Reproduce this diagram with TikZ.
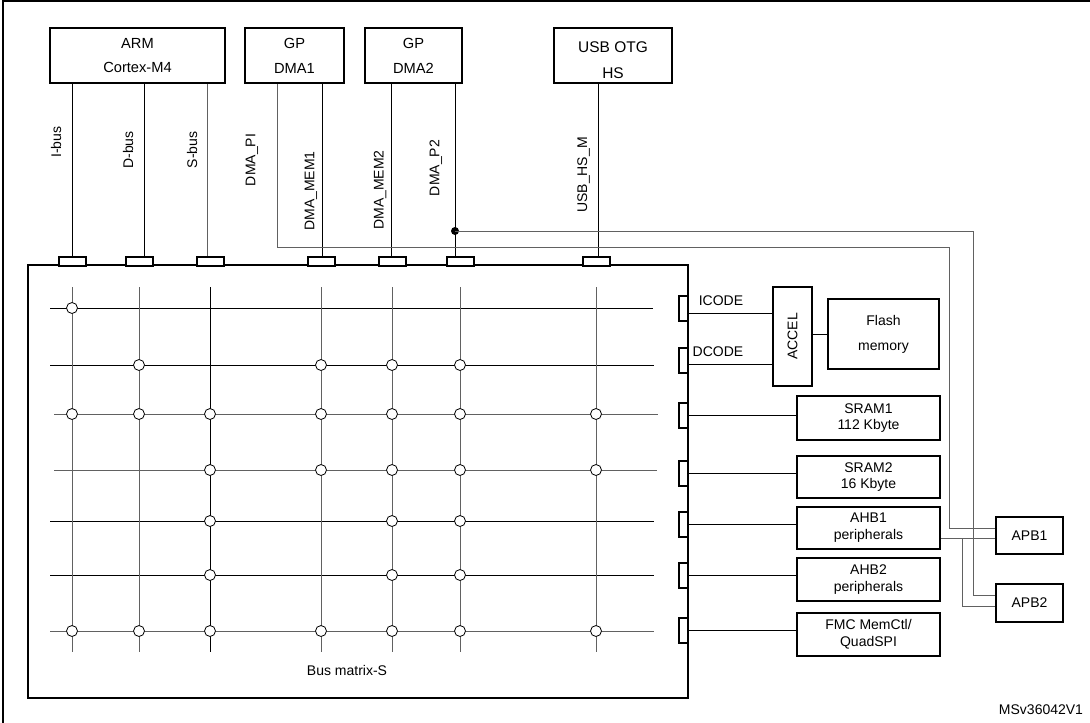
\documentclass[tikz,border=0pt]{standalone}
\usepackage{fontspec}
\setmainfont{Liberation Sans}
\usepackage{graphicx}

\tikzset{
  blk/.style={draw, line width=1.5pt, align=center, inner sep=0pt, font=\fontsize{10.5}{12.6}\selectfont},
  mst/.style={blk, font=\fontsize{11}{13}\selectfont, minimum height=41.25pt},
  port/.style={draw, line width=1.5pt, fill=white, inner sep=0pt, minimum width=20.25pt, minimum height=6.75pt},
  rport/.style={port, minimum width=6.75pt, minimum height=18.75pt},
  lbl/.style={inner sep=0pt, font=\fontsize{10.5}{12.6}\selectfont},
  wire/.style={line width=0.65pt},
  gwire/.style={line width=0.75pt, black!62},
  xnode/.style={circle, draw, fill=white, line width=0.6pt, inner sep=0pt, minimum size=8.25pt},
}

\begin{document}
\begin{tikzpicture}[x=0.75pt, y=-0.75pt]
\useasboundingbox (0,0) rectangle (1090,722);
% frame
\draw[line width=1.5pt] (3,730) |- (1095,1.2);

% masters
\node[mst, minimum width=131.25pt] (arm) at (137.5,55.5) {ARM\\[5.6pt]Cortex-M4};
\node[mst, minimum width=74.25pt] (dma1) at (294.5,55.5) {GP\\[5.6pt]DMA1};
\node[mst, minimum width=72.75pt] (dma2) at (413.5,55.5) {GP\\[5.6pt]DMA2};
\node[mst, minimum width=88.5pt,
  label={[yshift=-3.5pt, align=center, font=\fontsize{11.6}{13.5}\selectfont]center:USB OTG\\[6pt]HS}] (usb) at (613,55.5) {};

% bus matrix
\node[blk, minimum width=495pt, minimum height=324.75pt] (bm) at (358,481.5) {};
\node[lbl] (bmlbl) at (347,670) {Bus matrix-S};

% slaves
\node[blk, minimum width=29.25pt, minimum height=74.25pt] (acc) at (792.5,336.5) {\rotatebox{90}{ACCEL}};
\node[blk, minimum width=83.25pt, minimum height=52.5pt] (flash) at (883.5,334) {Flash\\[6.2pt]memory};
\node[blk, minimum width=107.25pt, minimum height=33pt] (sram1) at (868.5,418) {SRAM1\\112 Kbyte};
\node[blk, minimum width=107.25pt, minimum height=31.5pt] (sram2) at (868.5,477) {SRAM2\\16 Kbyte};
\node[blk, minimum width=107.25pt, minimum height=31.5pt] (ahb1) at (868.5,528) {AHB1\\peripherals};
\node[blk, minimum width=107.25pt, minimum height=32.25pt] (ahb2) at (868.5,579.5) {AHB2\\peripherals};
\node[blk, minimum width=107.25pt, minimum height=32.25pt] (fmc) at (868.5,634.5) {FMC MemCtl/\\QuadSPI};
\node[blk, minimum width=50.25pt, minimum height=27.75pt] (apb1) at (1029.5,535.5) {APB1};
\node[blk, minimum width=50.25pt, minimum height=28.5pt] (apb2) at (1029.5,603) {APB2};

% rows of the matrix
\foreach \y/\xa/\xb/\st in {308/50/653/wire, 365/50/654/wire, 414/54/658/gwire, 470/54/657/gwire,
  521/50/654/wire, 575/50/654/wire, 631/50/654/gwire}
  \draw[\st] (\xa,\y) -- (\xb,\y);

% master ports and columns
\foreach \nm/\lx/\cx/\m/\ls/\cs in {ib/72/72/arm/wire/gwire, db/144/139/arm/wire/gwire,
  sb/207/210/arm/gwire/wire, m1/322/321/dma1/wire/gwire, m2/391/392/dma2/wire/gwire,
  p2/455/460/dma2/wire/gwire, us/598/596/usb/wire/gwire} {
  \draw[\cs] (\cx,287) -- (\cx,652);
  \node[port] (\nm) at (\cx,261.5) {};
  \draw[\ls] (\lx,0 |- \m.south) -- (\lx,0 |- \nm.north);
}

% crossings
\def\colx{{72,139,210,321,392,460,596}}
\foreach \r/\y/\cl in {1/308/{1}, 2/365/{2,4,5,6}, 3/414/{1,2,3,4,5,6,7}, 4/470/{3,4,5,6,7},
  5/521/{3,5,6}, 6/575/{3,5,6}, 7/631/{1,2,3,4,5,6,7}}
  \foreach \c in \cl {
    \pgfmathsetmacro\xx{\colx[\c-1]}
    \node[xnode] (j\r\c) at (\xx,\y) {};
  }

% bus labels
\node[lbl, rotate=90] (tib) at (56,142) {I-bus};
\node[lbl, rotate=90] (tdb) at (128,150) {D-bus};
\node[lbl, rotate=90] (tsb) at (192,150) {S-bus};
\node[lbl, rotate=90] (tpi) at (252,160) {DMA\_PI};
\node[lbl, rotate=90] (tm1) at (311,191) {DMA\_MEM1};
\node[lbl, rotate=90] (tm2) at (380,190) {DMA\_MEM2};
\node[lbl, rotate=90] (tp2) at (436,168) {DMA\_P2};
\node[lbl, rotate=90] (tus) at (583.5,175) {USB\_HS\_M};

% slave ports
\foreach \nm/\y in {pic/308, pdc/360, ps1/415, ps2/473, pa1/524, pa2/575, pfm/630}
  \node[rport] (\nm) at (683.5,\y) {};

\draw[wire] (pic.east |- 0,313) -- (acc.west |- 0,313);
\draw[wire] (pdc.east |- 0,364) -- (acc.west |- 0,364);
\node[lbl] (ticode) at (721,301) {ICODE};
\node[lbl] (tdcode) at (718,352) {DCODE};
\draw[wire] (acc.east |- flash.west) -- (flash.west);
\foreach \p/\b in {ps1/sram1, ps2/sram2, pa1/ahb1, pa2/ahb2, pfm/fmc}
  \draw[wire] (\p.east) -- (\p.east -| \b.west);

% DMA peripheral paths to APB
\draw[gwire] (277,0 |- dma1.south) |- (949,247) |- (apb1.west |- 0,528);
\coordinate (dot) at (455,231);
\fill (dot) circle (3pt);
\draw[gwire] (dot) -| (973,595) -- (apb2.west |- 0,595);
\draw[gwire] (ahb1.east |- 0,538) -- (apb1.west |- 0,538);
\draw[gwire] (962,538) |- (apb2.west |- 0,606);

\node[lbl] (ver) at (1041,710) {MSv36042V1};
\end{tikzpicture}
\end{document}
